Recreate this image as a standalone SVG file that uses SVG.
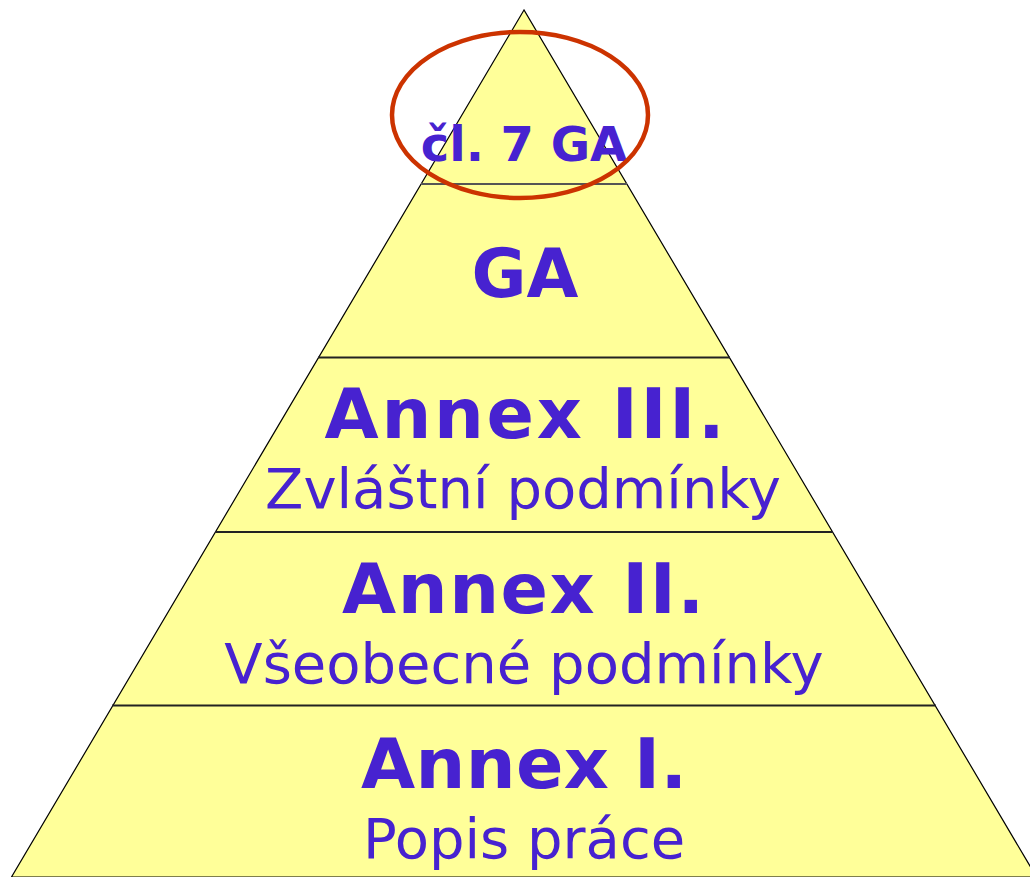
<svg xmlns="http://www.w3.org/2000/svg" width="1030" height="877" viewBox="0 0 1030 877">
<style>
.b{font-family:"DejaVu Sans","Liberation Sans",sans-serif;font-weight:bold;fill:#4722D0;text-anchor:middle}
.r{font-family:"DejaVu Sans","Liberation Sans",sans-serif;font-weight:normal;fill:#4722D0;text-anchor:middle}
.sep{stroke:#222;stroke-width:2}
</style>
<rect width="1030" height="877" fill="#FFFFFF"/>
<g id="pyramid">
<polygon points="524,10 11.5,877 1036.5,877" fill="#FFFF99" stroke="#000" stroke-width="1.2"/>
</g>
<g id="connectors">
<line x1="421" y1="184" x2="627" y2="184" stroke="#555" stroke-width="2"/>
<line class="sep" x1="318" y1="357.5" x2="730" y2="357.5"/>
<line class="sep" x1="215" y1="532" x2="833" y2="532"/>
<line class="sep" x1="112" y1="705.5" x2="936" y2="705.5"/>
</g>
<g id="node-cl7">
<text class="b" x="524" y="161" font-size="48">čl. 7 GA</text>
</g>
<g id="node-ga">
<text class="b" x="525" y="297" font-size="67">GA</text>
</g>
<g id="node-annex3">
<text class="b" x="524.5" y="438" font-size="70" textLength="400" lengthAdjust="spacing">Annex III.</text>
<text class="r" x="523" y="508" font-size="56">Zvláštní podmínky</text>
</g>
<g id="node-annex2">
<text class="b" x="523" y="613" font-size="70" textLength="362" lengthAdjust="spacing">Annex II.</text>
<text class="r" x="524" y="683" font-size="56">Všeobecné podmínky</text>
</g>
<g id="node-annex1">
<text class="b" x="524" y="788" font-size="70" textLength="326" lengthAdjust="spacing">Annex I.</text>
<text class="r" x="524" y="858" font-size="56">Popis práce</text>
</g>
<g id="highlight">
<ellipse cx="520" cy="115" rx="128" ry="83" fill="none" stroke="#CC3300" stroke-width="4.5"/>
</g>
</svg>
